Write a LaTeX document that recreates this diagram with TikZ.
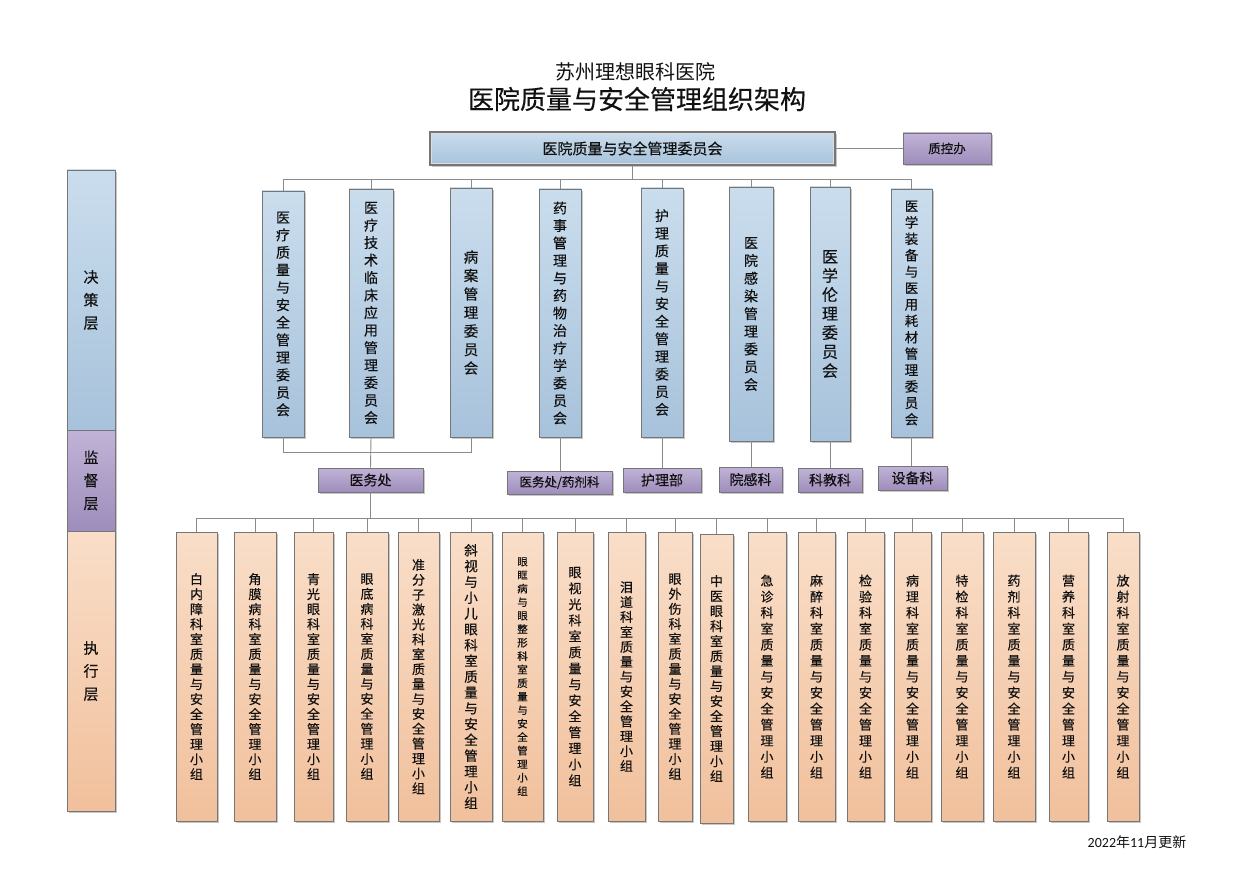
\documentclass[tikz,border=0pt]{standalone}
\usepackage{fontspec}
\setmainfont{Noto Sans CJK SC}[FakeBold=0.35]
\newfontfamily\plainfont{Noto Sans CJK SC}
\newfontfamily\datefont{Carlito}
\usetikzlibrary{shadows}
\definecolor{bluetop}{HTML}{CADDED}
\definecolor{bluebot}{HTML}{A7C2DB}
\definecolor{purtop}{HTML}{C0B3D7}
\definecolor{purbot}{HTML}{9E8DBB}
\definecolor{orgtop}{HTML}{F9DEC8}
\definecolor{orgbot}{HTML}{F1C09C}
\definecolor{boxline}{HTML}{767676}
\definecolor{linegray}{HTML}{8A8A8A}
\definecolor{txt}{HTML}{111111}
% vertical text: #1 font size, #2 pitch, #3 text
\newcommand\vtx[3]{\vbox{\fontsize{#1}{#2}\selectfont\baselineskip=#2\relax\lineskiplimit=-50pt\relax\lineskip=0pt\relax\vtxloop#3\relax}}
\def\vtxloop#1{\ifx\relax#1\else\hbox to 1.1em{\hss#1\hss}\expandafter\vtxloop\fi}
\newcommand\bx[7]{\node[#2, minimum width={#5-#3}, minimum height={#6-#4}] (#1) at ({(#3+#5)/2},{(#4+#6)/2}) {#7};}
\tikzset{
  base/.style={rectangle, inner sep=0pt, draw=boxline, line width=0.8pt, text=txt,
    drop shadow={shadow xshift=1.6pt, shadow yshift=-1.6pt, opacity=0.22, fill=black}},
  bluebox/.style={base, top color=bluetop, bottom color=bluebot},
  purplebox/.style={base, top color=purtop, bottom color=purbot},
  orangebox/.style={base, top color=orgtop, bottom color=orgbot},
  conn/.style={draw=linegray, line width=0.9pt},
}
\begin{document}
\begin{tikzpicture}[x=1pt, y=-1pt]
\useasboundingbox (0,0) rectangle (1240,877);
% titles
\node[text=txt, font=\plainfont\fontsize{20}{24}\selectfont] (t1) at (635,72) {苏州理想眼科医院};
\node[text=txt, font=\fontsize{26}{30}\selectfont] (t2) at (637,99) {医院质量与安全管理组织架构};
\node[text=txt, font=\plainfont\fontsize{14}{17}\selectfont] (date) at (1137,842) {{\datefont 2022}年{\datefont 11}月更新};
% left column
\bx{lc1}{bluebox}{67}{170}{115}{430}{\vtx{15pt}{23pt}{决策层}}
\bx{lc2}{purplebox}{67}{430}{115}{531}{\vtx{15pt}{23pt}{监督层}}
\bx{lc3}{orangebox}{67}{531}{115}{811}{\vtx{15pt}{23pt}{执行层}}
% top
\bx{top}{bluebox, line width=1.6pt}{430}{132}{835}{165}{\fontsize{15}{18}\selectfont 医院质量与安全管理委员会}
\draw[draw=white!75!boxline, line width=0.6pt] ([xshift=2.5pt,yshift=-2.5pt]top.north west) rectangle ([xshift=-2.5pt,yshift=2.5pt]top.south east);
\bx{zkb}{purplebox}{903}{133}{991}{164}{\fontsize{12.5}{15}\selectfont 质控办}
\draw[conn] (top.east) -- (zkb.west);
% committees
\bx{c1}{bluebox}{262}{191}{304}{437}{\vtx{14pt}{17.5pt}{医疗质量与安全管理委员会}}
\bx{c2}{bluebox}{349}{189}{393}{437}{\vtx{14pt}{17.5pt}{医疗技术临床应用管理委员会}}
\bx{c3}{bluebox}{450}{188}{492}{437}{\vtx{14.5pt}{18.5pt}{病案管理委员会}}
\bx{c4}{bluebox}{539}{189}{581}{437}{\vtx{14pt}{17.5pt}{药事管理与药物治疗学委员会}}
\bx{c5}{bluebox}{641}{188}{683}{437}{\vtx{14pt}{17.6pt}{护理质量与安全管理委员会}}
\bx{c6}{bluebox}{729}{187}{773}{441}{\vtx{14pt}{17.7pt}{医院感染管理委员会}}
\bx{c7}{bluebox}{810}{187}{850}{441}{\vtx{16pt}{19pt}{医学伦理委员会}}
\bx{c8}{bluebox}{891}{189}{932}{437}{\vtx{13.5pt}{16.4pt}{医学装备与医用耗材管理委员会}}
\coordinate (busA) at (0,179);
\foreach \c in {c1,c2,c3,c4,c5,c6,c7,c8}
  \draw[conn] (top.south) -- (top.south |- busA) -| (\c.north);
% supervisory
\bx{s1}{purplebox}{318}{468}{423}{492}{\fontsize{14}{17}\selectfont 医务处}
\bx{s2}{purplebox}{507}{471}{612}{494}{\fontsize{12.5}{15}\selectfont 医务处/药剂科}
\bx{s3}{purplebox}{623}{468}{701}{492}{\fontsize{14}{17}\selectfont 护理部}
\bx{s4}{purplebox}{719}{467}{782}{492}{\fontsize{14}{17}\selectfont 院感科}
\bx{s5}{purplebox}{798}{468}{862}{492}{\fontsize{14}{17}\selectfont 科教科}
\bx{s6}{purplebox}{878}{466}{947}{490}{\fontsize{14}{17}\selectfont 设备科}
\coordinate (jy) at (0,452);
\draw[conn] (c1.south) -- (c1.south |- jy) -| (c3.south);
\draw[conn] (c2.south) -- (s1.north);
\draw[conn] (c4.south) -- (c4.south |- s2.north);
\draw[conn] (c5.south) -- (c5.south |- s3.north);
\draw[conn] (c6.south) -- (c6.south |- s4.north);
\draw[conn] (c7.south) -- (c7.south |- s5.north);
\draw[conn] (c8.south) -- (c8.south |- s6.north);
% execution
\bx{e1}{orangebox}{176}{532}{217}{821}{\vtx{13pt}{15pt}{白内障科室质量与安全管理小组}}
\bx{e2}{orangebox}{234}{532}{276}{821}{\vtx{13pt}{15pt}{角膜病科室质量与安全管理小组}}
\bx{e3}{orangebox}{294}{532}{333}{821}{\vtx{13pt}{15pt}{青光眼科室质量与安全管理小组}}
\bx{e4}{orangebox}{346}{532}{388}{821}{\vtx{13pt}{15pt}{眼底病科室质量与安全管理小组}}
\bx{e5}{orangebox}{398}{532}{439}{821}{\vtx{13pt}{14.9pt}{准分子激光科室质量与安全管理小组}}
\bx{e6}{orangebox}{450}{532}{492}{821}{\vtx{13.5pt}{15.8pt}{斜视与小儿眼科室质量与安全管理小组}}
\bx{e7}{orangebox}{502}{532}{543}{821}{\vtx{10.5pt}{13.5pt}{眼眶病与眼整形科室质量与安全管理小组}}
\bx{e8}{orangebox}{557}{532}{593}{821}{\vtx{13pt}{16pt}{眼视光科室质量与安全管理小组}}
\bx{e9}{orangebox}{608}{532}{645}{821}{\vtx{13pt}{14.9pt}{泪道科室质量与安全管理小组}}
\bx{e10}{orangebox}{658}{532}{692}{821}{\vtx{13pt}{15pt}{眼外伤科室质量与安全管理小组}}
\bx{e11}{orangebox}{700}{534}{733}{823}{\vtx{13pt}{15pt}{中医眼科室质量与安全管理小组}}
\bx{e12}{orangebox}{748}{532}{786}{821}{\vtx{13pt}{16pt}{急诊科室质量与安全管理小组}}
\bx{e13}{orangebox}{798}{532}{835}{821}{\vtx{13pt}{16pt}{麻醉科室质量与安全管理小组}}
\bx{e14}{orangebox}{847}{532}{884}{821}{\vtx{13pt}{16pt}{检验科室质量与安全管理小组}}
\bx{e15}{orangebox}{894}{532}{931}{821}{\vtx{13pt}{16pt}{病理科室质量与安全管理小组}}
\bx{e16}{orangebox}{941}{532}{983}{821}{\vtx{13pt}{16pt}{特检科室质量与安全管理小组}}
\bx{e17}{orangebox}{993}{532}{1035}{821}{\vtx{13pt}{16pt}{药剂科室质量与安全管理小组}}
\bx{e18}{orangebox}{1049}{532}{1088}{821}{\vtx{13pt}{16pt}{营养科室质量与安全管理小组}}
\bx{e19}{orangebox}{1107}{532}{1139}{821}{\vtx{13pt}{16pt}{放射科室质量与安全管理小组}}
\coordinate (busB) at (0,518);
\foreach \e in {e1,e2,e3,e4,e5,e6,e7,e8,e9,e10,e11,e12,e13,e14,e15,e16,e17,e18,e19}
  \draw[conn] (s1.south) -- (s1.south |- busB) -| (\e.north);
\end{tikzpicture}
\end{document}
